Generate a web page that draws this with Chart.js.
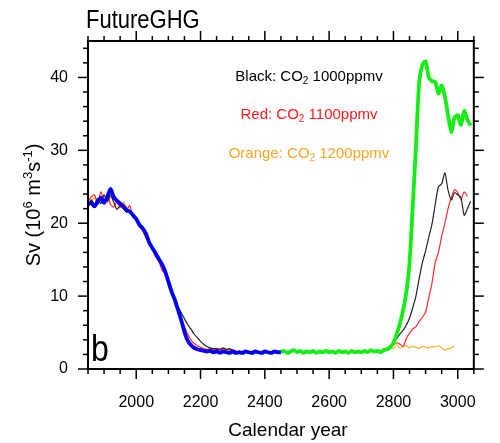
<!DOCTYPE html>
<html lang="en">
<head>
<meta charset="UTF-8">
<title>FutureGHG</title>
<script src="https://cdn.jsdelivr.net/npm/chart.js"></script>
<style>
  body { margin: 0; background: #fff; }
  #wrap { width: 500px; height: 443px; }
</style>
</head>
<body>
<div id="wrap"><canvas id="svChart"></canvas></div>
<script>
// ---- data (Sv) ----
const blueYears = [1850,1860,1870,1880,1890,1900,1910,1920,1930,1940,1950,1960,1970,1980,1990,2000,2010,2020,2030,2040,
  2050,2060,2070,2080,2090,2100,2110,2120,2130,2140,2150,2160,2170,2180,2190,2200,2210,2220,2230,2240,
  2250,2260,2270,2280,2290,2300,2310,2320,2330,2340,2350,2360,2370,2380,2390,2400,2410,2420,2430,2440,2450];
const blueValues = [22.6,22.8,22.3,22.9,23.5,22.8,23.6,24.7,23.6,23.1,22.7,22.3,21.8,21.6,21.1,20.6,19.8,19.3,18.6,17.4,
  16.6,15.9,15.1,14.4,13.4,12.0,10.6,9.5,8.1,6.7,5.1,3.9,3.3,2.9,2.7,2.6,2.5,2.4,2.5,2.3,
  2.4,2.2,2.4,2.3,2.2,2.4,2.2,2.3,2.2,2.4,2.3,2.2,2.4,2.3,2.2,2.4,2.3,2.2,2.4,2.3,2.3];

const greenYears = [2450,2460,2470,2480,2490,2500,2510,2520,2530,2540,2550,2560,2570,2580,2590,2600,2610,2620,2630,2640,
  2650,2660,2670,2680,2690,2700,2710,2720,2730,2740,2750,2760,2770,2780,2790,2800,2810,2820,2830,2840,
  2850,2860,2870,2880,2890,2900,2910,2920,2930,2940,2950,2960,2970,2980,2990,3000,3010,3020,3030,3040];
const greenValues = [2.3,2.5,2.2,2.4,2.6,2.3,2.5,2.2,2.4,2.3,2.5,2.2,2.4,2.3,2.5,2.3,2.4,2.2,2.5,2.3,
  2.4,2.2,2.5,2.3,2.4,2.3,2.5,2.3,2.6,2.4,2.5,2.3,2.6,2.7,3.0,3.6,4.8,6.2,8.0,10.5,
  14.5,22.3,30.5,39.3,41.7,42.2,40.0,39.5,39.4,37.8,38.9,37.4,34.8,32.5,34.5,34.8,33.5,35.4,34.2,33.4];

const earlyYears = [1850,1860,1870,1880,1890,1900,1910,1920,1930,1940,1950,1960,1970,1980,1990,2000,2010,2020,2030,2040,
  2050,2060,2070,2080,2090,2100,2110,2120,2130,2140,2150,2160,2170,2180,2190,2200,2210,2220,2230,2240,
  2250,2260,2270,2280,2290,2300,2310];
const lateYears = [2780,2790,2800,2810,2820,2830,2840,2850,2860,2870,2880,2890,2900,2910,2920,2930,2940,2950,2960,2970,
  2980,2990,3000,3010,3020,3030,3040];

const blackEarly = [22.4,23.2,22.6,23.4,22.7,23.9,23.0,23.8,22.9,21.9,22.4,22.0,21.5,21.7,20.9,20.4,19.9,19.1,18.3,17.6,
  16.8,16.0,15.2,14.3,13.1,11.8,10.6,9.6,8.6,7.7,6.9,6.1,5.5,4.8,4.3,3.8,3.4,3.1,2.9,2.8,
  2.8,2.7,2.9,2.7,2.8,2.6,2.5];
const blackLate = [2.6,2.9,3.5,4.2,4.8,5.3,6.0,7.0,8.4,10.0,12.4,14.6,16.2,18.1,19.9,22.6,25.0,25.4,26.9,24.5,
  23.2,24.2,23.9,23.5,21.1,22.0,23.0];

const redEarly = [23.0,23.6,23.9,22.8,24.3,23.2,23.8,22.6,22.2,23.0,22.1,22.7,21.9,22.4,20.8,20.5,19.5,19.0,18.0,17.5,
  16.4,15.4,14.8,13.6,13.0,11.9,10.5,9.3,8.0,6.9,5.8,4.8,4.0,3.5,3.2,3.0,2.8,2.7,2.8,2.6,
  2.7,2.6,2.8,2.6,2.7,2.6,2.5];
const redLate = [2.5,2.9,3.3,3.6,3.4,3.1,4.2,4.9,5.5,5.8,6.5,7.1,7.8,9.8,11.8,14.6,16.0,18.2,20.0,22.0,
  23.5,24.6,24.2,23.3,24.3,23.7,null];

const orangeEarly = [22.1,22.9,23.5,22.6,23.2,23.8,22.9,23.4,23.9,22.8,22.5,22.9,22.2,21.4,21.0,20.7,19.6,19.2,18.4,17.3,
  16.7,15.7,15.3,14.2,13.2,11.7,10.4,9.3,7.9,6.5,5.0,4.0,3.4,3.1,2.9,2.8,2.7,2.6,2.7,2.6,
  2.5,2.7,2.6,2.5,2.6,2.5,2.4];
const orangeLate = [2.6,3.1,2.8,3.3,2.9,3.1,3.2,2.9,3.1,3.0,2.8,3.1,3.0,2.9,3.1,3.0,3.2,2.9,2.6,2.8,
  2.9,3.2,null,null,null,null,null];

// ---- ticks ----
const xMajor = [2000,2200,2400,2600,2800,3000];
const xMinor = [1850,1900,1950,2050,2100,2150,2250,2300,2350,2450,2500,2550,2650,2700,2750,2850,2900,2950,3050];
const yMajor = [0,10,20,30,40];
const yMinor = [2,4,6,8,12,14,16,18,22,24,26,28,32,34,36,38,42,44];

const runNames = ['Black: ', 'Red: ', 'Orange: '];
const runPpmv = [' 1000ppmv', ' 1100ppmv', ' 1200ppmv'];
const runColors = ['#000000', '#ff1a1a', '#f5a623'];

const FONT = '"Liberation Sans", Arial, sans-serif';

function pts(years, vals) {
  return years.map((x, i) => ({ x: x, y: vals[i] }));
}
// thin runs: early segment, gap, late segment
function runPts(early, late) {
  return pts(earlyYears, early).concat([{ x: 2320, y: null }], pts(lateYears, late));
}

function drawRich(ctx, parts, x, y, size, color, align) {
  const small = Math.round(size * 0.66);
  const w = parts.map(p => {
    ctx.font = (p[1] ? small : size) + 'px ' + FONT;
    return ctx.measureText(p[0]).width;
  });
  const total = w.reduce((a, b) => a + b, 0);
  let cx = align === 'center' ? x - total / 2 : x;
  ctx.fillStyle = color;
  ctx.textAlign = 'left';
  ctx.textBaseline = 'alphabetic';
  parts.forEach((p, i) => {
    ctx.font = (p[1] ? small : size) + 'px ' + FONT;
    const dy = p[1] === 'sup' ? -size * 0.42 : p[1] === 'sub' ? size * 0.22 : 0;
    ctx.fillText(p[0], cx, y + dy);
    cx += w[i];
  });
}

const frame = {
  id: 'frame',
  afterDraw(chart) {
    const { ctx, chartArea: a } = chart;
    const xs = chart.scales.x, ys = chart.scales.y;
    ctx.save();
    ctx.strokeStyle = '#000';
    ctx.lineWidth = 1.5;
    const seg = (x1, y1, x2, y2) => { ctx.beginPath(); ctx.moveTo(x1, y1); ctx.lineTo(x2, y2); ctx.stroke(); };
    const xt = (v, len) => { const p = xs.getPixelForValue(v); seg(p, a.bottom, p, a.bottom + len); seg(p, a.top, p, a.top - len); };
    const yt = (v, len) => { const p = ys.getPixelForValue(v); seg(a.left, p, a.left - len, p); seg(a.right, p, a.right + len, p); };
    xMajor.forEach(v => xt(v, 10));
    xMinor.forEach(v => xt(v, 5));
    yMajor.forEach(v => yt(v, 10));
    yMinor.forEach(v => yt(v, 5));
    ctx.lineWidth = 2;
    ctx.strokeRect(a.left, a.top, a.right - a.left, a.bottom - a.top);

    // title
    ctx.save();
    ctx.translate(86, 28);
    ctx.scale(1, 1.18);
    ctx.fillStyle = '#000';
    ctx.font = '22px ' + FONT;
    ctx.fillText('FutureGHG', 0, 0);
    ctx.restore();

    // run notes
    const base = [81, 119, 158];
    runNames.forEach((n, i) => {
      drawRich(ctx, [[n + 'CO', ''], ['2', 'sub'], [runPpmv[i], '']], 309, base[i], 15, runColors[i], 'center');
    });

    // panel letter
    ctx.save();
    ctx.translate(91, 361);
    ctx.scale(1, 1.15);
    ctx.fillStyle = '#000';
    ctx.font = '32px ' + FONT;
    ctx.fillText('b', 0, 0);
    ctx.restore();

    // axis titles
    ctx.fillStyle = '#000';
    ctx.font = '19px ' + FONT;
    ctx.textAlign = 'center';
    ctx.fillText('Calendar year', 288, 436);

    ctx.save();
    ctx.translate(40, 205);
    ctx.rotate(-Math.PI / 2);
    drawRich(ctx, [['Sv (10', ''], ['6', 'sup'], [' m', ''], ['3', 'sup'], ['s', ''], ['-1', 'sup'], [')', '']], 0, 0, 20, '#000', 'center');
    ctx.restore();
    ctx.restore();
  }
};

const thin = (label, data, color) => ({
  label, data, borderColor: color, borderWidth: 1.2, pointRadius: 0, tension: 0.25, spanGaps: false, order: 2
});

new Chart(document.getElementById('svChart'), {
  type: 'line',
  data: {
    datasets: [
      { label: 'Control', data: pts(blueYears, blueValues), borderColor: '#0000ff', borderWidth: 3.8, pointRadius: 0, tension: 0.25, order: 0 },
      { label: 'FutureGHG', data: pts(greenYears, greenValues), borderColor: '#14ee14', borderWidth: 3.8, pointRadius: 0, tension: 0.25, order: 0 },
      thin('CO2 1000ppmv', runPts(blackEarly, blackLate), '#222222'),
      thin('CO2 1100ppmv', runPts(redEarly, redLate), '#ff2a2a'),
      thin('CO2 1200ppmv', runPts(orangeEarly, orangeLate), '#f7b035')
    ]
  },
  options: {
    responsive: true,
    maintainAspectRatio: false,
    animation: false,
    layout: { padding: { top: 41, right: 11, left: 0, bottom: 0 } },
    plugins: { legend: { display: false }, tooltip: { enabled: false } },
    scales: {
      x: {
        type: 'linear', min: 1850, max: 3050,
        grid: { display: false, drawTicks: false },
        border: { display: false },
        afterBuildTicks: s => { s.ticks = xMajor.map(v => ({ value: v })); },
        afterFit: s => { s.height = 74; },
        ticks: { padding: 24, color: '#000', font: { family: FONT, size: 16 }, maxRotation: 0, callback: v => String(v) }
      },
      y: {
        type: 'linear', min: 0, max: 45,
        grid: { display: false, drawTicks: false },
        border: { display: false },
        afterBuildTicks: s => { s.ticks = yMajor.map(v => ({ value: v })); },
        afterFit: s => { s.width = 88; },
        ticks: { padding: 20, color: '#000', font: { family: FONT, size: 16 } }
      }
    }
  },
  plugins: [frame]
});
</script>
</body>
</html>
